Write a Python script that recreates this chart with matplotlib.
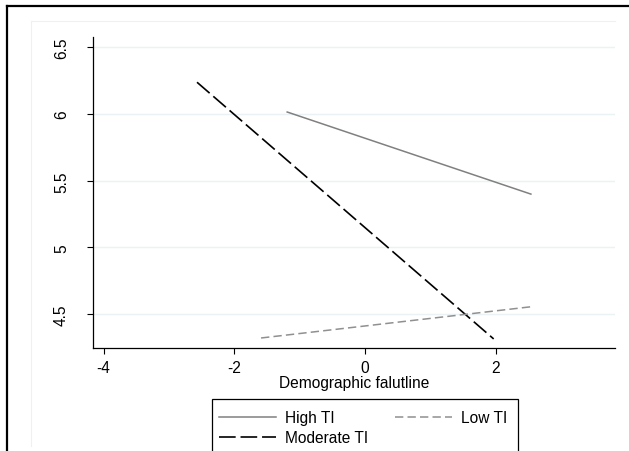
import matplotlib
matplotlib.use("Agg")
import matplotlib.pyplot as plt
from matplotlib.lines import Line2D
from matplotlib.patches import Rectangle

plt.rcParams['font.family'] = ['Liberation Sans', 'DejaVu Sans']
plt.rcParams['lines.scale_dashes'] = False
plt.rcParams['axes.unicode_minus'] = False

# line endpoints
high_x = [-1.19, 2.54]
high_y = [6.015, 5.40]
mod_x = [-2.57, 1.97]
mod_y = [6.238, 4.315]
low_x = [-1.59, 2.56]
low_y = [4.322, 4.557]

xticks = [-4, -2, 0, 2]
yticks = [4.5, 5, 5.5, 6, 6.5]
ytick_labels = ['4.5', '5', '5.5', '6', '6.5']

fs = 11.2

fig = plt.figure(figsize=(6.29, 4.52), dpi=100)
ax = fig.add_axes([93 / 629, 1 - 349 / 452, (615 - 93) / 629, (349 - 38) / 452])

for y in yticks:
    ax.axhline(y, color='#eaf2f3', lw=1.0, zorder=0)

ax.plot(high_x, high_y, color='#808080', lw=1.1, label='High TI')
ax.plot(mod_x, mod_y, color='black', lw=1.2, dashes=(12, 3.5), label='Moderate TI')
ax.plot(low_x, low_y, color='#909090', lw=1.1, dashes=(6, 3), label='Low TI')

ax.set_xlim(-4.162, 3.827)
ax.set_ylim(4.247, 6.577)
ax.set_xticks(xticks)
ax.set_yticks(yticks)
ax.set_yticklabels(ytick_labels, rotation=90, va='center')
ax.tick_params(axis='y', length=4.3, width=0.8, pad=13, labelsize=fs)
ax.tick_params(axis='x', length=4.3, width=0.8, pad=4, labelsize=fs)
ax.set_xlabel('Demographic falutline', fontsize=fs, labelpad=0)

for s in ['top', 'right']:
    ax.spines[s].set_visible(False)
for s in ['left', 'bottom']:
    ax.spines[s].set_linewidth(0.9)

# legend entries, box drawn separately (the box runs off the bottom edge)
leg = fig.legend(loc='upper left', bbox_to_anchor=(211.6 / 629, 1 - 404 / 452),
                 ncol=2, fontsize=fs, frameon=False, borderaxespad=0,
                 handlelength=3.7, handletextpad=0.55, columnspacing=1.73,
                 labelspacing=0.35, borderpad=0.45)
fig.add_artist(Rectangle((211.6 / 629, -0.05), (518 - 211.6) / 629, 0.05 + (452 - 400) / 452,
                         transform=fig.transFigure, fill=False, edgecolor='black', lw=0.9))

# outer frame of the graph region
fig.add_artist(Line2D([7 / 629, 1.0], [1 - 7 / 452, 1 - 7 / 452], color='black', lw=1.6,
                      transform=fig.transFigure))
fig.add_artist(Line2D([7 / 629, 7 / 629], [0.0, 1 - 7 / 452], color='black', lw=1.6,
                      transform=fig.transFigure))
fig.add_artist(Line2D([31 / 629, 615 / 629], [1 - 22 / 452, 1 - 22 / 452], color='#f0f0f0', lw=0.8,
                      transform=fig.transFigure))
fig.add_artist(Line2D([31 / 629, 31 / 629], [1 - 447 / 452, 1 - 22 / 452], color='#f0f0f0', lw=0.8,
                      transform=fig.transFigure))

fig.savefig('out.png', dpi=100)
